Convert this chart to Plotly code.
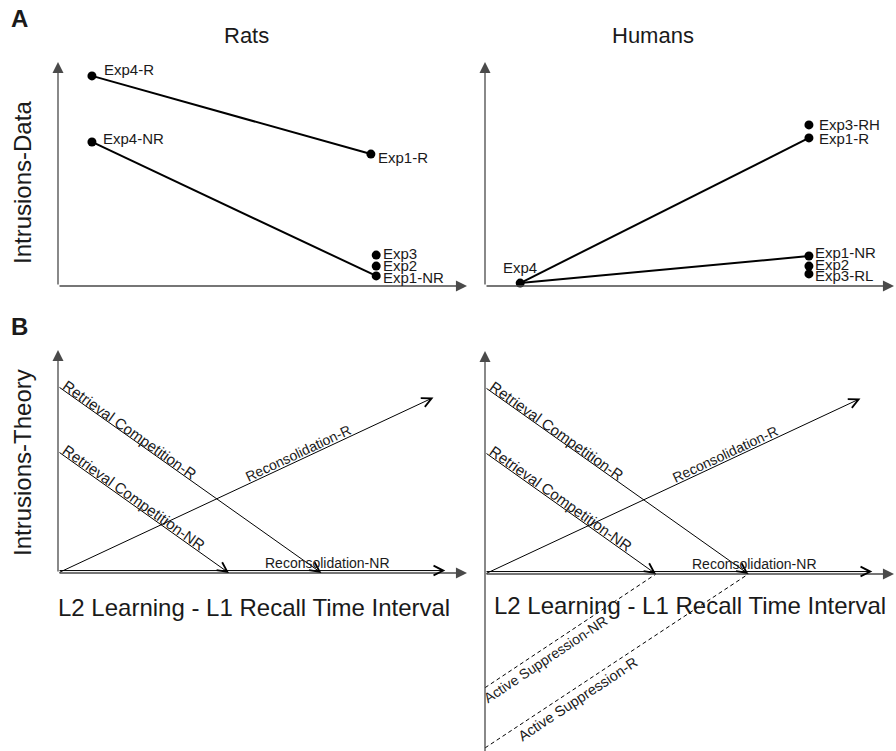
import math
import plotly.graph_objects as go

# ------------------------------------------------------------------ data
# Panel A (data), arbitrary units: x = L2 learning - L1 recall interval, y = intrusions
rats_labels = ["Exp4-R", "Exp4-NR", "Exp1-R", "Exp3", "Exp2", "Exp1-NR"]
rats_x = [0.83, 0.83, 7.65, 7.78, 7.78, 7.78]
rats_y = [9.38, 6.43, 5.89, 1.38, 0.89, 0.45]
rats_links = [("Exp4-R", "Exp1-R"), ("Exp4-NR", "Exp1-NR")]

humans_labels = ["Exp4", "Exp3-RH", "Exp1-R", "Exp1-NR", "Exp2", "Exp3-RL"]
humans_x = [0.86, 7.92, 7.92, 7.92, 7.92, 7.92]
humans_y = [0.13, 7.19, 6.61, 1.34, 0.89, 0.54]
humans_links = [("Exp4", "Exp1-R"), ("Exp4", "Exp1-NR")]

# Panel B (theory) lines: start (x0, y0) -> end (x1, y1)
theory_names = ["Retrieval Competition-R", "Retrieval Competition-NR",
                "Reconsolidation-R", "Reconsolidation-NR"]
theory_x0 = [0.0, 0.0, 0.0, 0.0]
theory_y0 = [8.37, 5.45, 0.0, 0.11]
theory_x1 = [6.44, 4.18, 9.18, 9.47]
theory_y1 = [0.0, 0.0, 7.87, 0.11]

supp_names = ["Active Suppression-NR", "Active Suppression-R"]
supp_x0 = [0.0, 0.0]
supp_y0 = [-5.1, -7.8]
supp_x1 = [4.18, 6.44]
supp_y1 = [0.0, 0.0]

# ------------------------------------------------------------------ style / layout
W, H = 896, 751
FONT = "Liberation Sans, Arial, Helvetica, sans-serif"
TXT = "#1a1a1a"
AXC = "#4a4a4a"

# label offsets (px) for point labels: (xshift, yshift, xanchor)
rats_lab_off = [(10, 6, "left"), (9, 3, "left"), (5, -3, "left"),
                (5, 2, "left"), (5, 1, "left"), (5, -2, "left")]
humans_lab_off = [(0, 16, "center"), (8, 0, "left"), (8, -1, "left"),
                  (4, 3, "left"), (4, 2, "left"), (4, -2, "left")]

# label anchor positions / sizes for theory lines (data units)
theory_lab_x = [1.74, 1.86, 5.88, 6.58]
theory_lab_y = [6.42, 3.40, 5.37, 0.47]
theory_lab_size = [15, 15, 14, 14]
supp_lab_x = [1.49, 2.27]
supp_lab_y = [-3.80, -5.60]
supp_lab_size = [14, 14.5]

panels = [
    # origin px, px per unit, box px (L, T, R, B)
    dict(n=1, ox=58, oy=286, sx=40.9, sy=22.4, box=(48, 50, 472, 296)),
    dict(n=2, ox=485, oy=286, sx=40.9, sy=22.4, box=(477, 50, 896, 296)),
    dict(n=3, ox=58, oy=573, sx=40.9, sy=22.3, box=(48, 338, 472, 583)),
    dict(n=4, ox=485, oy=574, sx=40.9, sy=22.3, box=(477, 338, 896, 751)),
]

fig = go.Figure()
layout = dict(width=W, height=H, margin=dict(l=0, r=0, t=0, b=0),
              paper_bgcolor="white", plot_bgcolor="rgba(0,0,0,0)",
              showlegend=False, font=dict(family=FONT, color=TXT))
for p in panels:
    L, T, R, B = p["box"]
    sfx = "" if p["n"] == 1 else str(p["n"])
    layout["xaxis" + sfx] = dict(domain=[L / W, R / W],
                                 range=[(L - p["ox"]) / p["sx"], (R - p["ox"]) / p["sx"]],
                                 visible=False, fixedrange=True, anchor="y" + sfx)
    layout["yaxis" + sfx] = dict(domain=[1 - B / H, 1 - T / H],
                                 range=[(p["oy"] - B) / p["sy"], (p["oy"] - T) / p["sy"]],
                                 visible=False, fixedrange=True, anchor="x" + sfx)
fig.update_layout(**layout)

ann = []


def refs(n):
    s = "" if n == 1 else str(n)
    return "x" + s, "y" + s


def arrow(n, x0, y0, x1, y1, head, width, size, color):
    xr, yr = refs(n)
    ann.append(dict(x=x1, y=y1, ax=x0, ay=y0, xref=xr, yref=yr, axref=xr, ayref=yr,
                    text="", showarrow=True, arrowhead=head, arrowwidth=width,
                    arrowsize=size, arrowcolor=color, standoff=0, startstandoff=0))


# axes with arrow tips
for p in panels:
    arrow(p["n"], 0, 0, 10, 0, 2, 1.3, 1.7, AXC)
    ybot = -8.0 if p["n"] == 4 else 0
    arrow(p["n"], 0, ybot, 0, 10, 2, 1.3, 1.7, AXC)

# panel A data
for n, labels, xs, ys, links, offs in [
        (1, rats_labels, rats_x, rats_y, rats_links, rats_lab_off),
        (2, humans_labels, humans_x, humans_y, humans_links, humans_lab_off)]:
    xr, yr = refs(n)
    for a, b in links:
        ia, ib = labels.index(a), labels.index(b)
        fig.add_trace(go.Scatter(x=[xs[ia], xs[ib]], y=[ys[ia], ys[ib]], mode="lines",
                                 line=dict(color="black", width=2), xaxis=xr, yaxis=yr,
                                 hoverinfo="skip", cliponaxis=False))
    fig.add_trace(go.Scatter(x=xs, y=ys, mode="markers", text=labels,
                             marker=dict(color="black", size=9), xaxis=xr, yaxis=yr,
                             cliponaxis=False))
    for lab, x, y, (dx, dy, xa) in zip(labels, xs, ys, offs):
        ann.append(dict(x=x, y=y, xref=xr, yref=yr, text=lab, showarrow=False,
                        xanchor=xa, yanchor="middle", xshift=dx, yshift=dy,
                        font=dict(size=15, color=TXT)))

# panel B theory
for p in [panels[2], panels[3]]:
    n = p["n"]
    xr, yr = refs(n)
    for name, x0, y0, x1, y1, lx, ly, fs in zip(theory_names, theory_x0, theory_y0,
                                                 theory_x1, theory_y1, theory_lab_x,
                                                 theory_lab_y, theory_lab_size):
        arrow(n, x0, y0, x1, y1, 5, 1, 1.9, "black")
        ang = math.degrees(math.atan2((y0 - y1) * p["sy"], (x1 - x0) * p["sx"]))
        ann.append(dict(x=lx, y=ly, xref=xr, yref=yr, text=name, showarrow=False,
                        textangle=ang, xanchor="center", yanchor="middle",
                        font=dict(size=fs, color=TXT)))
    if n == 4:
        for name, x0, y0, x1, y1, lx, ly, fs in zip(supp_names, supp_x0, supp_y0,
                                                     supp_x1, supp_y1, supp_lab_x,
                                                     supp_lab_y, supp_lab_size):
            fig.add_trace(go.Scatter(x=[x0, x1], y=[y0, y1], mode="lines",
                                     line=dict(color="black", width=1, dash="4px,3px"),
                                     xaxis=xr, yaxis=yr, hoverinfo="skip"))
            ang = math.degrees(math.atan2((y0 - y1) * p["sy"], (x1 - x0) * p["sx"]))
            ann.append(dict(x=lx, y=ly, xref=xr, yref=yr, text=name, showarrow=False,
                            textangle=ang, xanchor="center", yanchor="middle",
                            font=dict(size=fs, color=TXT)))


def ptext(px, py, text, size, bold=False, angle=0):
    ann.append(dict(x=px / W, y=1 - py / H, xref="paper", yref="paper",
                    text=("<b>%s</b>" % text) if bold else text, showarrow=False,
                    xanchor="center", yanchor="middle", textangle=angle,
                    font=dict(size=size, color=TXT)))


ptext(19, 19, "A", 24, bold=True)
ptext(19, 326, "B", 24, bold=True)
ptext(246, 36, "Rats", 22)
ptext(653, 36, "Humans", 22)
ptext(22, 183, "Intrusions-Data", 24, angle=-90)
ptext(22, 463, "Intrusions-Theory", 24, angle=-90)
ptext(254, 607, "L2 Learning - L1 Recall Time Interval", 24)
ptext(690, 605, "L2 Learning - L1 Recall Time Interval", 24)

fig.update_layout(annotations=ann)
fig.write_html("out.html",
               config={"displayModeBar": False, "staticPlot": True},
               post_script="document.body.style.margin='0';document.body.style.overflow='hidden';")
